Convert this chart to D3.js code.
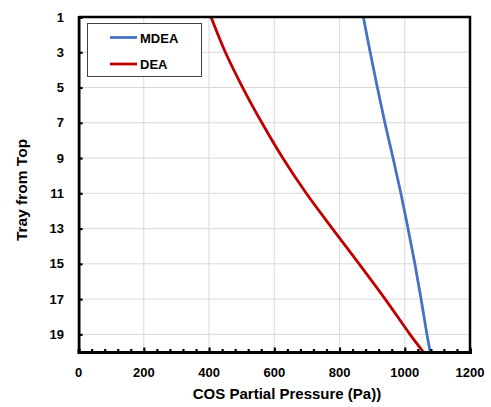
<!DOCTYPE html>
<html>
<head>
<meta charset="utf-8">
<script src="https://cdn.jsdelivr.net/npm/d3@7"></script>
<style>
  body { margin: 0; background: #fff; }
  svg text { font-family: Arial, "Liberation Sans", sans-serif; font-weight: bold; fill: #000; }
</style>
</head>
<body>
<svg id="chart" width="491" height="407"></svg>
<script>
// values
var trays = [1, 3, 5, 7, 9, 11, 13, 15, 17, 19, 20];
var mdea = [873, 894, 916, 939, 964, 988, 1010, 1031, 1050, 1068, 1078];
var dea = [406, 450, 503, 562, 626, 698, 778, 860, 940, 1016, 1057];

var xTicks = [0, 200, 400, 600, 800, 1000, 1200];
var yTicks = [1, 3, 5, 7, 9, 11, 13, 15, 17, 19];

var series = [
  { name: "MDEA", values: mdea, color: "#4472C4" },
  { name: "DEA", values: dea, color: "#C00000" }
];

var svg = d3.select("#chart");
// plot box (note: "top" is taken by window.top)
var pLeft = 78.6, pRight = 470, pTop = 17, pBottom = 352;

var x = d3.scaleLinear().domain([0, 1200]).range([pLeft, pRight]);
var y = d3.scaleLinear().domain([1, 20]).range([pTop, pBottom]);

// grid
svg.append("g").selectAll("line").data(xTicks.slice(1, -1)).join("line")
  .attr("x1", d => x(d)).attr("x2", d => x(d))
  .attr("y1", pTop).attr("y2", pBottom)
  .attr("stroke", "#d9d9d9").attr("stroke-width", 1);
svg.append("g").selectAll("line").data(yTicks.slice(1)).join("line")
  .attr("x1", pLeft).attr("x2", pRight)
  .attr("y1", d => y(d)).attr("y2", d => y(d))
  .attr("stroke", "#d9d9d9").attr("stroke-width", 1);

// lines
var line = d3.line().curve(d3.curveCatmullRom.alpha(0.5));
series.forEach(function(s) {
  svg.append("path")
    .datum(trays.map((t, i) => [x(s.values[i]), y(t)]))
    .attr("d", line)
    .attr("fill", "none")
    .attr("stroke", s.color)
    .attr("stroke-width", 2.8);
});

// frame (top / right)
svg.append("path")
  .attr("d", "M" + pLeft + "," + pTop + "H" + pRight + "V" + pBottom)
  .attr("fill", "none").attr("stroke", "#000").attr("stroke-width", 2.5);

// bottom axis, ticks inward, minor every 40
var xAxis = d3.axisBottom(x).tickValues(d3.range(0, 1201, 40)).tickSize(-3).tickFormat("");
var gx = svg.append("g").attr("transform", "translate(0," + pBottom + ")").call(xAxis);
gx.select(".domain").attr("stroke-width", 3);
gx.selectAll(".tick line").attr("stroke-width", 2.2)
  .filter(d => d % 200 === 0).attr("y2", -4.5);
svg.append("g").selectAll("text").data(xTicks).join("text")
  .attr("x", d => x(d)).attr("y", 377)
  .attr("text-anchor", "middle").attr("font-size", 13)
  .text(d => d);

// left axis, ticks inward
var yAxis = d3.axisLeft(y).tickValues(yTicks.slice(1)).tickSize(-4).tickFormat("");
var gy = svg.append("g").attr("transform", "translate(" + pLeft + ",0)").call(yAxis);
gy.select(".domain").attr("stroke-width", 2.8);
gy.selectAll(".tick line").attr("stroke-width", 2.2);
svg.append("g").selectAll("text").data(yTicks).join("text")
  .attr("x", 64).attr("y", d => y(d) + 4.5)
  .attr("text-anchor", "end").attr("font-size", 13)
  .text(d => d);

// titles
svg.append("text").attr("x", 287).attr("y", 399)
  .attr("text-anchor", "middle").attr("font-size", 15)
  .text("COS Partial Pressure (Pa))");
svg.append("text").attr("transform", "translate(26.5,190) rotate(-90)")
  .attr("text-anchor", "middle").attr("font-size", 15.5)
  .text("Tray from Top");

// legend
var lg = svg.append("g");
lg.append("rect").attr("x", 87.5).attr("y", 23.5).attr("width", 114).attr("height", 53)
  .attr("fill", "#fff").attr("stroke", "#404040").attr("stroke-width", 1);
series.forEach(function(s, i) {
  var ly = 37.5 + i * 26.5;
  lg.append("line").attr("x1", 110).attr("x2", 137).attr("y1", ly).attr("y2", ly)
    .attr("stroke", s.color).attr("stroke-width", 2.8);
  lg.append("text").attr("x", 140).attr("y", ly + 5)
    .attr("font-size", 13).text(s.name);
});
</script>
</body>
</html>
